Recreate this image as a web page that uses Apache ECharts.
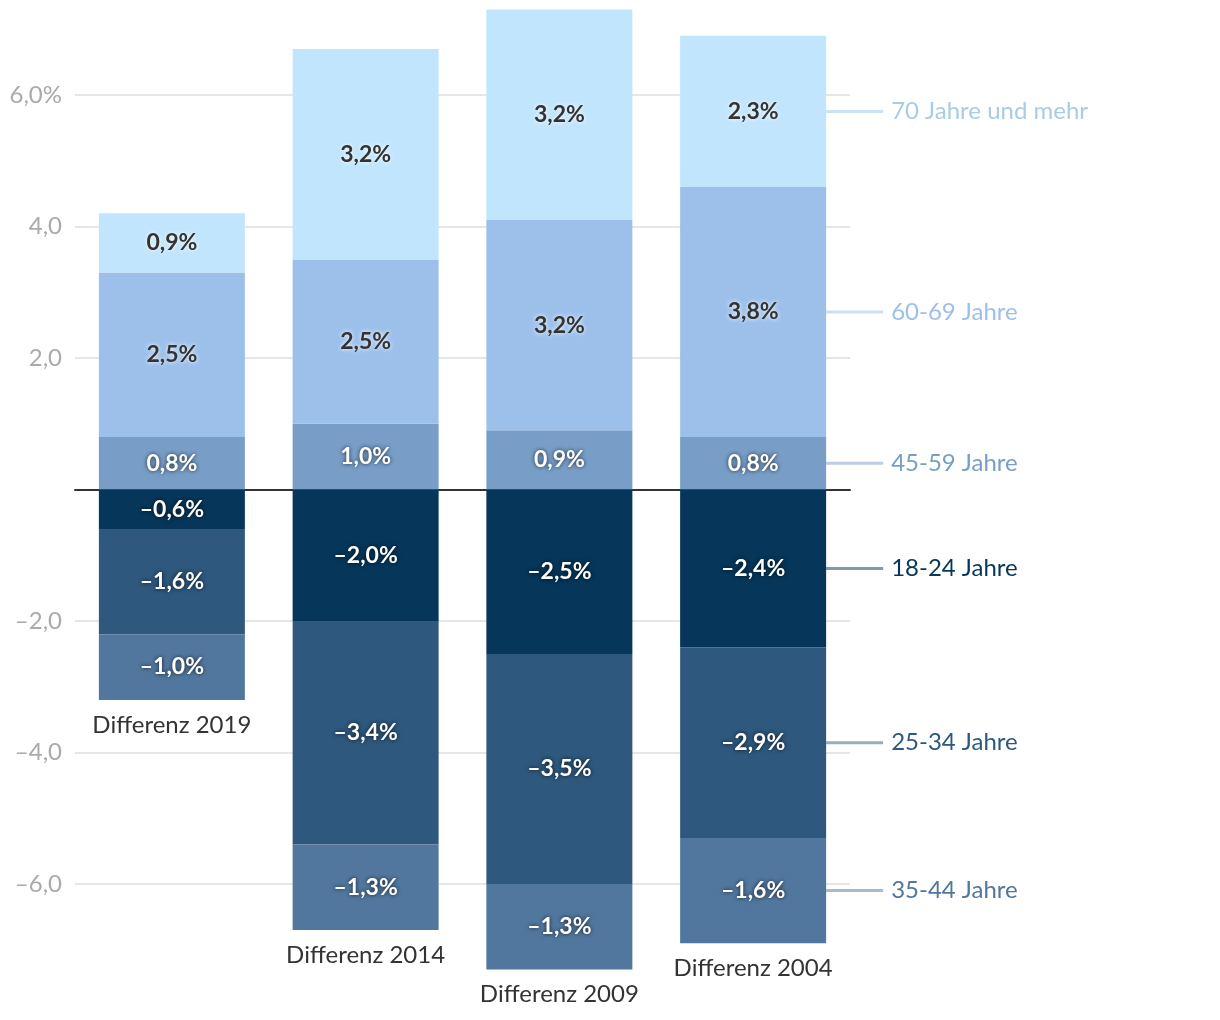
<!DOCTYPE html>
<html><head><meta charset="utf-8">
<script src="https://cdn.jsdelivr.net/npm/echarts@6/dist/echarts.min.js"></script>
<style>html,body{margin:0;padding:0;background:#fff}#c{width:1220px;height:1020px}</style>
</head><body><div id="c"></div>
<script>
var categories = ['Differenz 2019','Differenz 2014','Differenz 2009','Differenz 2004'];
var age4559 = [0.8, 1.0, 0.9, 0.8];
var age6069 = [2.5, 2.5, 3.2, 3.8];
var age70 = [0.9, 3.2, 3.2, 2.3];
var age1824 = [-0.6, -2.0, -2.5, -2.4];
var age2534 = [-1.6, -3.4, -3.5, -2.9];
var age3544 = [-1.0, -1.3, -1.3, -1.6];
var yTicks = [-6, -4, -2, 2, 4, 6];

var FONT = 'Lato, "Open Sans", sans-serif';
function fmt(v){ return (v<0?'\u2013':'') + Math.abs(v).toFixed(1).replace('.', ',') + '%'; }

var groups = [
  {name:'45-59 Jahre', data:age4559, color:'#789ec8', text:'#789ec8', line:'rgba(120,158,200,0.5)', dark:false},
  {name:'60-69 Jahre', data:age6069, color:'#9dc0eb', text:'#9dc0eb', line:'rgba(157,192,235,0.5)', dark:true},
  {name:'70 Jahre und mehr', data:age70, color:'#c1e5fc', text:'#a6cce7', line:'rgba(166,204,231,0.55)', dark:true},
  {name:'18-24 Jahre', data:age1824, color:'#063659', text:'#063659', line:'rgba(6,54,89,0.5)', dark:false},
  {name:'25-34 Jahre', data:age2534, color:'#2e587d', text:'#2e587d', line:'rgba(46,88,125,0.5)', dark:false},
  {name:'35-44 Jahre', data:age3544, color:'#52779e', text:'#52779e', line:'rgba(82,119,158,0.5)', dark:false}
];

var series = [];
groups.forEach(function(g){
  series.push({
    type:'bar', name:g.name, stack:'total', barWidth:146, data:g.data,
    itemStyle:{color:g.color},
    label:{show:true, position:'inside', fontFamily:FONT, fontSize:23, fontWeight:'bold',
      color: g.dark ? '#333333' : '#ffffff',
      textShadowColor: g.dark ? 'rgba(255,255,255,1)' : 'rgba(0,0,0,0.75)',
      textShadowBlur: 4,
      formatter:function(p){ return fmt(p.value); }}
  });
});

// legend-like labels at the last category, centred on each segment
var last = categories.length - 1;
var posCum = 0, negCum = 0;
groups.forEach(function(g){
  var v = g.data[last], mid;
  if (v >= 0) { mid = posCum + v/2; posCum += v; } else { mid = negCum + v/2; negCum += v; }
  series.push({
    type:'scatter', symbolSize:0, silent:true, z:5,
    itemStyle:{opacity:1},
    data:[[categories[last], mid]],
    label:{show:true, position:'right', distance:73, fontFamily:FONT,
      formatter:'{l|}{t|' + g.name + '}',
      rich:{
        l:{width:57, height:3, backgroundColor:g.line},
        t:{fontSize:24, color:g.text, padding:[0,0,0,8], fontFamily:FONT}
      }}
  });
});

// category labels below the negative stacks
var negTotals = categories.map(function(c, i){ return age1824[i] + age2534[i] + age3544[i]; });
series.push({
  type:'scatter', symbolSize:0, silent:true,
  itemStyle:{opacity:1},
  data: categories.map(function(c, i){ return [c, negTotals[i]]; }),
  label:{show:true, position:'bottom', distance:13, fontFamily:FONT, fontSize:24, color:'#333333',
    formatter:function(p){ return p.value[0]; }}
});

var chart = echarts.init(document.getElementById('c'), null, {renderer:'canvas'});
chart.setOption({
  animation:false,
  backgroundColor:'#ffffff',
  grid:{left:75, right:370, top:0, bottom:4.5, containLabel:false},
  xAxis:{type:'category', data:categories,
    axisLine:{show:true, onZero:true, lineStyle:{color:'#333333', width:2}},
    axisTick:{show:false}, axisLabel:{show:false}, splitLine:{show:false}},
  yAxis:{type:'value', min:-8, max:7.445, interval:2,
    axisLine:{show:false}, axisTick:{show:false},
    splitLine:{show:true, showMinLine:false, showMaxLine:false, lineStyle:{color:'#e6e6e6', width:2}},
    axisLabel:{fontFamily:FONT, fontSize:24, color:'#aaaaaa', margin:13, showMinLabel:true, showMaxLabel:true,
      formatter:function(v){
        if (yTicks.indexOf(v) < 0) return '';
        var s = (v<0?'\u2013':'') + Math.abs(v).toFixed(1).replace('.', ',');
        return v === 6 ? s + '%' : s;
      }}},
  series:series
});
</script></body></html>
